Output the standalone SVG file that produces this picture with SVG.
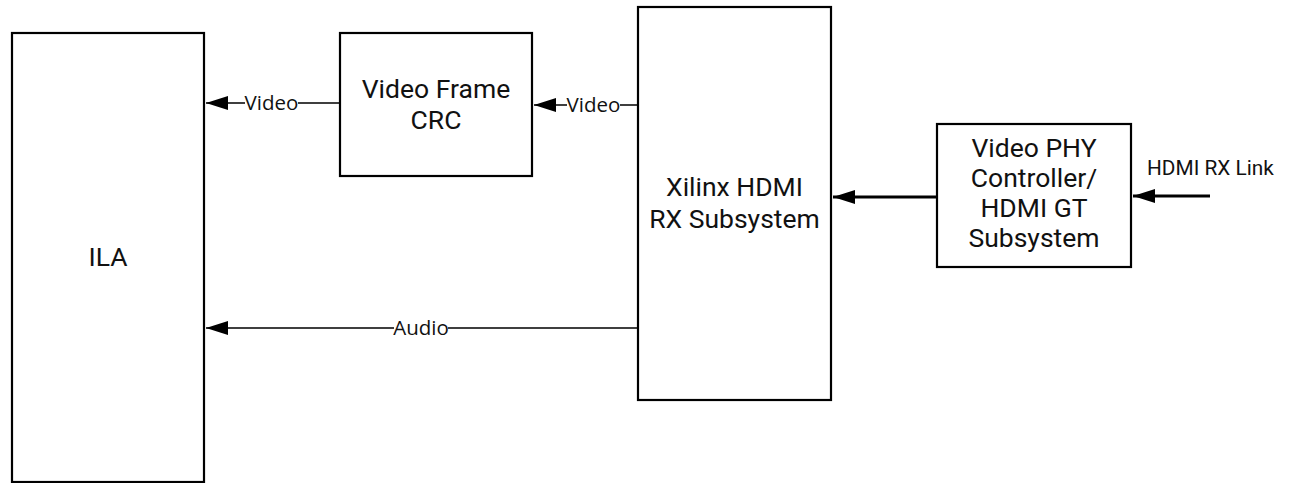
<svg xmlns="http://www.w3.org/2000/svg" width="1290" height="483" viewBox="0 0 1290 483">
<style>
.box{fill:#fff;stroke:#000;stroke-width:2.2}
.t{font-family:Roboto,"Liberation Sans",sans-serif;font-size:26.5px;fill:#111;text-anchor:middle}
.lbl{font-family:"Open Sans","Noto Sans",sans-serif;font-size:20.5px;fill:#111;text-anchor:middle}
.lk{font-family:Roboto,"Liberation Sans",sans-serif;font-size:20.8px;fill:#111}
.thin{stroke:#000;stroke-width:1.3;fill:none}
.thick{stroke:#000;stroke-width:3;fill:none}
</style>
<defs>
<marker id="ah" markerUnits="userSpaceOnUse" markerWidth="22" markerHeight="14" refX="22" refY="7" orient="auto" viewBox="0 0 22 14">
<path d="M0,0 L22,7 L0,14 Z" fill="#000"/>
</marker>
</defs>
<g id="ILA"><rect class="box" x="12" y="33" width="192" height="449"/><text class="t" x="108" y="266">ILA</text></g>
<g id="CRC"><rect class="box" x="340" y="33" width="192" height="143"/><text class="t" x="436" y="98">Video Frame</text><text class="t" x="436" y="129">CRC</text></g>
<g id="HDMIRX"><rect class="box" x="638" y="7" width="193" height="393"/><text class="t" x="734.5" y="196">Xilinx HDMI</text><text class="t" x="734.5" y="228">RX Subsystem</text></g>
<g id="PHY"><rect class="box" x="937" y="124" width="194" height="143"/><text class="t" x="1034" y="157">Video PHY</text><text class="t" x="1034" y="187">Controller/</text><text class="t" x="1034" y="217">HDMI GT</text><text class="t" x="1034" y="247">Subsystem</text></g>
<g id="connectors">
<path class="thin" d="M340,103 H298 M245,103 H206" marker-end="url(#ah)"/>
<text class="lbl" x="271.5" y="110">Video</text>
<path class="thin" d="M638,105 H620 M567,105 H534" marker-end="url(#ah)"/>
<text class="lbl" x="593.5" y="112">Video</text>
<path class="thin" d="M638,328 H448 M394,328 H206" marker-end="url(#ah)"/>
<text class="lbl" x="421" y="335">Audio</text>
<path class="thick" d="M937,197 H833" marker-end="url(#ah)"/>
<path class="thick" d="M1210,196 H1133" marker-end="url(#ah)"/>
<text class="lk" x="1147" y="175">HDMI RX Link</text>
</g>
</svg>
